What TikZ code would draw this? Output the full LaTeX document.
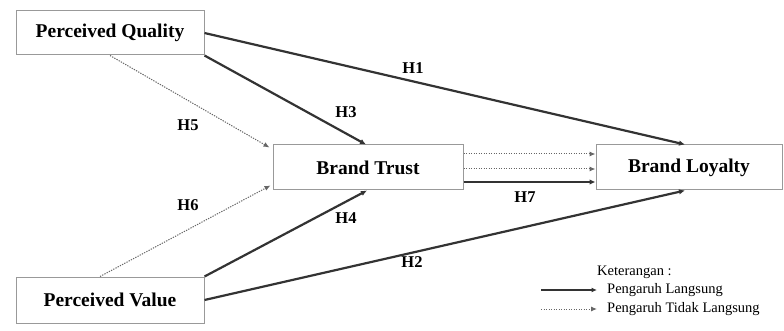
\documentclass[tikz,border=0pt]{standalone}
\usepackage{fontspec}
\setmainfont{Liberation Serif}
\usetikzlibrary{arrows.meta,calc}
\begin{document}
\begin{tikzpicture}[x=1pt,y=-1pt,
  box/.style={draw=black!40,line width=1pt,fill=white,inner sep=0pt,font=\fontsize{19.5}{21}\selectfont\bfseries},
  hlabel/.style={font=\fontsize{16.5}{18}\selectfont\bfseries,inner sep=1pt},
  direct/.style={draw=black!80,line width=2.2pt,-{Latex[length=6pt,width=5.5pt]}},
  indirect/.style={draw=black!60,line width=1pt,dash pattern=on 1.3pt off 1.2pt,-{Latex[length=6pt,width=5pt]}},
  legtext/.style={font=\fontsize{14.5}{16}\selectfont,anchor=west,inner sep=0pt}]
\useasboundingbox (0,0) rectangle (784,331);
\node[box,minimum width=188pt,minimum height=44pt] (PQ) at (110,33) {Perceived Quality};
\node[box,minimum width=190pt,minimum height=45pt] (BT) at (368,167.5) {Brand Trust};
\node[box,minimum width=186pt,minimum height=45pt] (BL) at (689,167.5) {Brand Loyalty};
\node[box,minimum width=188pt,minimum height=46pt] (PV) at (110,300) {Perceived Value};
% connectors
\draw[direct] (PQ.east) -- ([xshift=-4pt]BL.north);
\draw[direct] (PQ.south east) -- ([xshift=-2pt]BT.north);
\draw[indirect] (PQ.south) -- ([xshift=-3pt,yshift=-3pt]BT.north west);
\draw[indirect] ([xshift=-10pt]PV.north) -- ([xshift=-2pt,yshift=5pt]BT.south west);
\draw[direct] (PV.north east) -- ([xshift=-1pt]BT.south);
\draw[direct] (PV.east) -- ([xshift=-4pt]BL.south);
\draw[indirect] ([yshift=13.5pt]BT.east) -- ([yshift=13.5pt]BL.west);
\draw[indirect] ([yshift=-1.5pt]BT.east) -- ([yshift=-1.5pt]BL.west);
\draw[direct] ([yshift=-14.5pt]BT.east) -- ([yshift=-14.5pt]BL.west);
% labels
\node[hlabel] (H1) at (413,68) {H1};
\node[hlabel] (H3) at (346,112) {H3};
\node[hlabel] (H5) at (188,125) {H5};
\node[hlabel] (H6) at (188,205) {H6};
\node[hlabel] (H4) at (346,218) {H4};
\node[hlabel] (H2) at (412,262) {H2};
\node[hlabel] (H7) at (525,197) {H7};
% legend
\node[legtext] (K) at (597,272) {Keterangan :};
\coordinate (a1) at (541,290);
\coordinate (a2) at (597,290);
\coordinate (b1) at (541,309);
\coordinate (b2) at (597,309);
\draw[draw=black!80,line width=1.6pt,-{Latex[length=5.5pt,width=5pt]}] (a1) -- (a2);
\draw[indirect] (b1) -- (b2);
\node[legtext] (L1) at (607,290) {Pengaruh Langsung};
\node[legtext] (L2) at (607,309) {Pengaruh Tidak Langsung};
\end{tikzpicture}
\end{document}
